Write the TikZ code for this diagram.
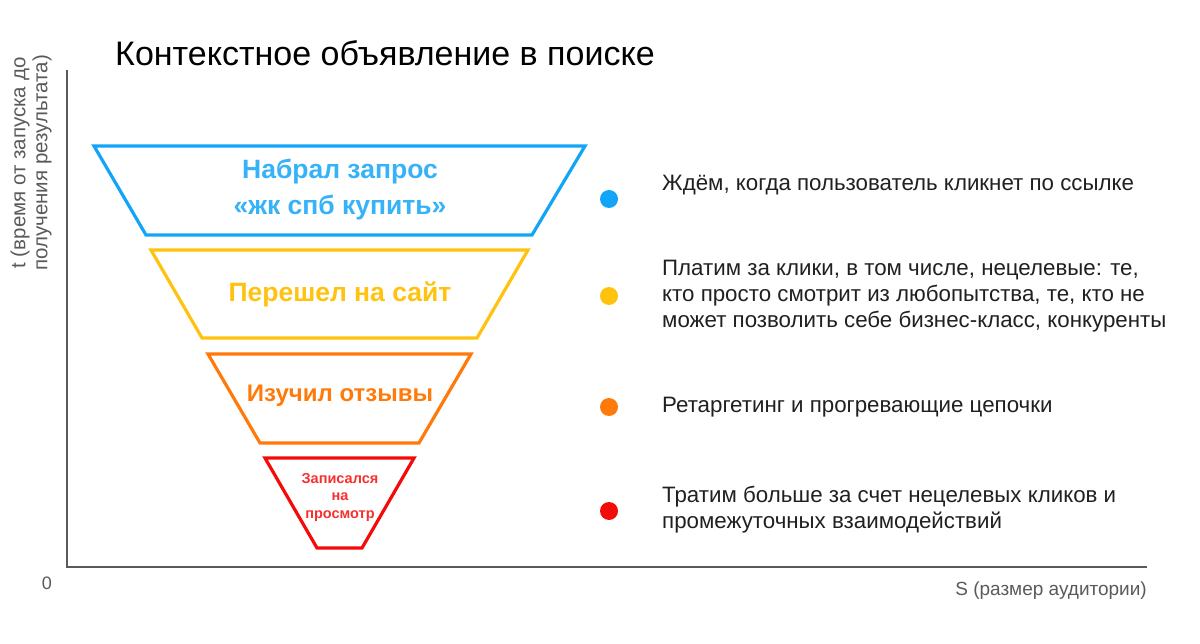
\documentclass[tikz,border=0pt]{standalone}
\usepackage{fontspec}
\setmainfont{Liberation Sans}
\definecolor{stageblue}{HTML}{12A4F7}
\definecolor{stageyellow}{HTML}{FFC20E}
\definecolor{stageorange}{HTML}{FF7A0A}
\definecolor{stagered}{HTML}{F50A0A}
\definecolor{axisgray}{HTML}{5A5A5A}
\definecolor{notetext}{HTML}{202020}

\begin{document}
\begin{tikzpicture}[x=1pt,y=-1pt]
\tikzstyle{every node}+=[inner sep=0pt]
\tikzstyle{stage}=[line width=3.2pt, line join=miter]
\tikzstyle{stagelabel}=[font=\bfseries\fontsize{26.5}{36}\selectfont, align=center]
\tikzstyle{note}=[anchor=west, align=left, text=notetext, font=\fontsize{22.3}{26}\selectfont]
\tikzstyle{marker}=[circle, minimum size=18pt]
\useasboundingbox (0,0) rectangle (1200,644);
% title
\node [anchor=base west, font=\fontsize{34}{40}\selectfont] (title) at (115,66) {Контекстное объявление в поиске};
% axes
\coordinate (top) at (67,70);
\coordinate (origin) at (67,567);
\coordinate (right) at (1147,567);
\draw [axisgray, line width=1.4pt] (top) -- (origin) -- (right);
\node [text=axisgray, font=\fontsize{18}{21}\selectfont] (zero) at (47,583) {0};
\node [anchor=east, text=axisgray, font=\fontsize{19}{21}\selectfont] (xlabel) at (1147,591) {S (размер аудитории)};
\node [rotate=90, align=center, text=axisgray, font=\fontsize{20.5}{22}\selectfont] (ylabel) at (31,163) {t (время от запуска до\\получения результата)};
% funnel
\draw [stage, stageblue] (94,146) -- (585,146) -- (532,235) -- (146,235) -- cycle;
\node [stagelabel, text=stageblue!85!white] (q1) at (340,190) {Набрал запрос\\«жк спб купить»};
\draw [stage, stageyellow] (151,250) -- (528,250) -- (477,338) -- (202,338) -- cycle;
\node [stagelabel, text=stageyellow] (q2) at (340,294) {Перешел на сайт};
\draw [stage, stageorange] (208,354) -- (471,354) -- (419,443) -- (260,443) -- cycle;
\node [stagelabel, font=\bfseries\fontsize{24}{30}\selectfont, text=stageorange] (q3) at (340,396) {Изучил отзывы};
\draw [stage, stagered] (265,458) -- (414,458) -- (362,548) -- (317,548) -- cycle;
\node [align=center, text=stagered!85!white, font=\bfseries\fontsize{14.5}{17.5}\selectfont] (q4) at (340,497) {Записался\\на\\просмотр};
% legend
\node [marker, fill=stageblue] (d1) at (609,199) {};
\node [note] (n1) at (662,185) {Ждём, когда пользователь кликнет по ссылке};
\node [marker, fill=stageyellow] (d2) at (609,296) {};
\node [note] (n2) at (662,296) {Платим за клики, в том числе, нецелевые: те,\\кто просто смотрит из любопытства, те, кто не\\может позволить себе бизнес-класс, конкуренты};
\node [marker, fill=stageorange] (d3) at (609,407) {};
\node [note] (n3) at (662,407) {Ретаргетинг и прогревающие цепочки};
\node [marker, fill=stagered] (d4) at (609,511) {};
\node [note] (n4) at (662,510) {Тратим больше за счет нецелевых кликов и\\промежуточных взаимодействий};
\end{tikzpicture}
\end{document}
